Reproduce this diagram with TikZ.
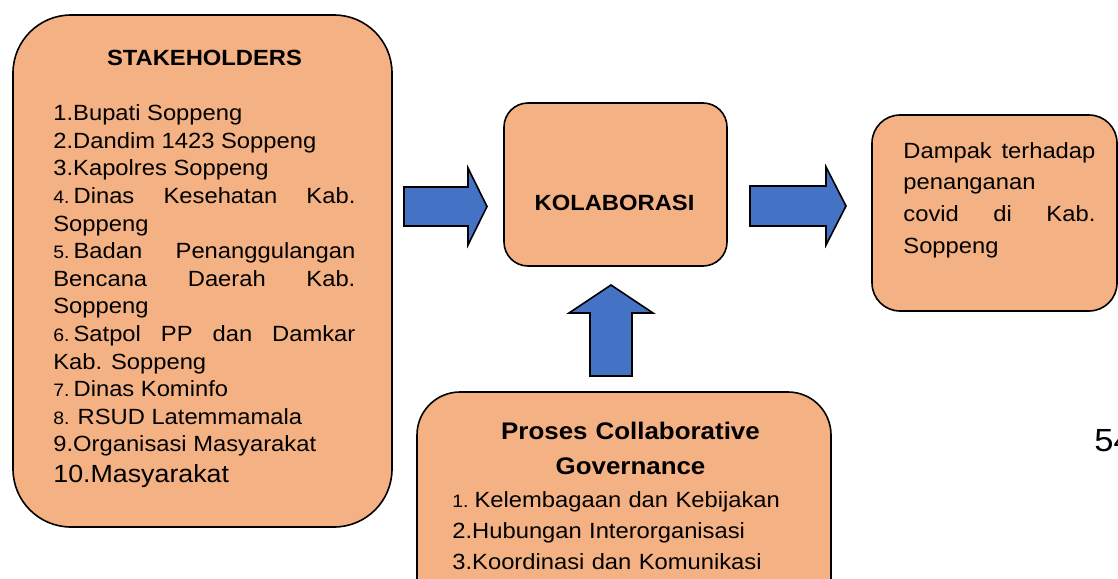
\documentclass[tikz,border=0pt]{standalone}
\usepackage{fontspec}
\setmainfont{Liberation Sans}[FakeStretch=1.08]
\usetikzlibrary{calc}

\definecolor{boxorange}{RGB}{244,177,131}
\definecolor{arrowblue}{RGB}{68,114,196}

\tolerance=10000
\hbadness=10000
\hyphenpenalty=10000

\tikzset{
  box/.style={draw=black, line width=0.8pt, fill=boxorange, inner sep=0pt},
  arrowshape/.style={draw=black, line width=0.8pt, fill=arrowblue, line join=miter},
  txt/.style={inner sep=0pt, font=\fontsize{11}{13.8}\selectfont},
  headtxt/.style={inner sep=0pt, font=\fontsize{11}{13.8}\selectfont\bfseries}
}

\newcommand{\smallnum}[1]{{\fontsize{9}{9}\selectfont #1}}

% block arrow: tail, tip, shaft half width, head half width, head length
\newcommand{\blockarrow}[5]{%
  \coordinate (#1base) at ($(#2)!#5!(#1)$);
  \filldraw[arrowshape] ($(#1)!#3!90:(#2)$) -- ($(#1base)!#3!90:(#2)$)
    -- ($(#1base)!#4!90:(#2)$) -- (#2) -- ($(#1base)!#4!-90:(#2)$)
    -- ($(#1base)!#3!-90:(#2)$) -- ($(#1)!#3!-90:(#2)$) -- cycle;}

\begin{document}
\begin{tikzpicture}[x=0.5pt, y=-0.5pt]
  \useasboundingbox[fill=white] (0,0) rectangle (1118,578);

  \node[box, rounded corners=29pt, minimum width=189.5pt, minimum height=256pt] (stake) at (202.5,271) {};
  \node[box, rounded corners=12pt, minimum width=111.5pt, minimum height=81.5pt] (kolab) at (615.5,184.5) {};
  \node[box, rounded corners=14pt, minimum width=122.5pt, minimum height=98pt] (dampak) at (994.5,213) {};
  \node[box, rounded corners=21.5pt, minimum width=207pt, minimum height=134pt] (proses) at (624,526) {};

  % arrows between the boxes
  \coordinate (inA)  at (404,206.5);
  \coordinate (inB)  at (487,206.5);
  \coordinate (outA) at (750,206);
  \coordinate (outB) at (846,206);
  \coordinate (upA)  at (611,376);
  \coordinate (upB)  at (611,285);
  \blockarrow{inA}{inB}{9.75pt}{19.25pt}{9.5pt}
  \blockarrow{outA}{outB}{10pt}{19.5pt}{10pt}
  \blockarrow{upA}{upB}{10.5pt}{21pt}{14pt}

  \node[headtxt, anchor=base] (stakehead) at (204.5,65) {STAKEHOLDERS};
  \node[txt, anchor=base west, text width=151pt, align=justify] (stakelist) at (53,120.7) {%
    1.Bupati Soppeng\par
    2.Dandim 1423 Soppeng\par
    3.Kapolres Soppeng\par
    \smallnum{4.}\hspace{2pt}Dinas Kesehatan Kab.\linebreak Soppeng\par
    \smallnum{5.}\hspace{2pt}Badan Penanggulangan\linebreak Bencana Daerah Kab.\linebreak Soppeng\par
    \smallnum{6.}\hspace{2pt}Satpol PP dan Damkar\linebreak Kab. Soppeng\par
    \smallnum{7.}\hspace{2pt}Dinas Kominfo\par
    \smallnum{8.}\hspace{4pt}RSUD Latemmamala\par
    9.Organisasi Masyarakat\par
    {\fontsize{12.4}{15.5}\selectfont 10.Masyarakat\par}};

  \node[headtxt, anchor=base] (kolablabel) at (614.5,210) {KOLABORASI};

  \node[txt, anchor=base west, text width=96pt, align=justify, font=\fontsize{11}{15.85}\selectfont] (dampaktext) at (903,158)
    {Dampak terhadap\linebreak penanganan\linebreak covid di Kab.\linebreak Soppeng};

  \node[anchor=base, text width=180pt, align=center, inner sep=0pt, font=\fontsize{12}{17.5}\selectfont\bfseries] (prosestitle) at (630.5,439)
    {Proses Collaborative\\Governance};
  \node[txt, anchor=base west, text width=190pt, align=left, font=\fontsize{11}{15.5}\selectfont] (proseslist) at (452,507)
    {\smallnum{1.}\hspace{3pt}Kelembagaan dan Kebijakan\\2.Hubungan Interorganisasi\\3.Koordinasi dan Komunikasi};

  \node[inner sep=0pt, anchor=base west, font=\fontsize{16}{16}\selectfont] (pagenum) at (1094,451) {54};
\end{tikzpicture}
\end{document}
